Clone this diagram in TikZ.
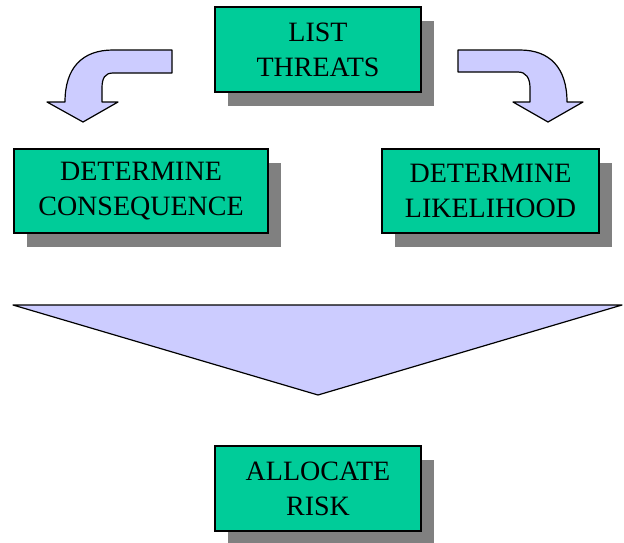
\documentclass[tikz,border=0pt]{standalone}
\usepackage{fontspec}
\setmainfont{Liberation Serif}
\usetikzlibrary{shadows}
\definecolor{boxgreen}{RGB}{0,204,153}
\definecolor{arrowblue}{RGB}{204,204,255}
\definecolor{shadowgray}{RGB}{128,128,128}
\tikzset{
	stepbox/.style={draw=black, line width=1.2pt, fill=boxgreen, align=center,
		font=\fontsize{28}{35}\selectfont, inner sep=0pt,
		drop shadow={shadow xshift=13pt, shadow yshift=-14pt, fill=shadowgray, opacity=1}},
	bluearrow/.style={draw=black, line width=1.2pt, fill=arrowblue, line join=round}
}
\begin{document}
\begin{tikzpicture}[x=1pt, y=-1pt]
			%%%%% START %%%%%
			\useasboundingbox (0, 0) rectangle (624, 542);
			
			\node[stepbox, minimum width=206pt, minimum height=85pt] (list) at (318, 49.5) {LIST\\THREATS};
			
			\node[stepbox, minimum width=254pt, minimum height=84pt] (conseq) at (141, 191) {DETERMINE\\CONSEQUENCE};
			\node[stepbox, minimum width=217pt, minimum height=84pt] (likely) at (490.5, 191) {DETERMINE\\LIKELIHOOD};
			
			% bent arrows
			\draw[bluearrow] (172, 50) -- (113, 50) .. controls (82, 50) and (65, 68) .. (65, 102) -- (47, 102) -- (83, 122) -- (118, 102) -- (102, 102) -- (102, 88) .. controls (102, 78) and (105, 73) .. (113, 73) -- (172, 73) -- cycle;
			\draw[bluearrow] (458, 50) -- (520, 50) .. controls (550, 50) and (567, 68) .. (567, 102) -- (583, 102) -- (548, 122) -- (513, 102) -- (530, 102) -- (530, 88) .. controls (530, 78) and (526, 72) .. (518, 72) -- (458, 72) -- cycle;
			
			% funnel
			\draw[bluearrow] (13, 305) -- (622, 305) -- (318, 395) -- cycle;
			
			\node[stepbox, minimum width=206pt, minimum height=85pt] (alloc) at (318, 488.5) {ALLOCATE\\RISK};
			%%%%% END %%%%%
\end{tikzpicture}
\end{document}
